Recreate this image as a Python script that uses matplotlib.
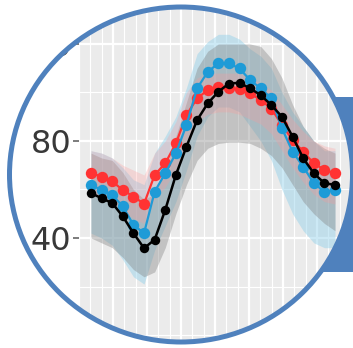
import numpy as np
import matplotlib
matplotlib.use("Agg")
import matplotlib.pyplot as plt
from matplotlib.patches import Ellipse, Polygon, PathPatch
from matplotlib.path import Path

# ---------------- data ----------------
hours = list(range(24))

red_mean = [66.8, 65.3, 63.3, 59.8, 57.1, 54.1, 66.0, 70.8, 79.0, 90.7, 97.6, 101.0,
            102.1, 101.7, 101.3, 99.6, 96.9, 93.4, 86.6, 80.4, 75.6, 70.8, 68.1, 66.7]
red_low = [58, 57, 55, 51, 48, 46, 56, 61, 68, 80, 88, 91,
           92, 92, 91, 89, 87, 83, 76, 69, 63, 58, 55, 54]
red_high = [76, 75, 73, 70, 68, 66, 75, 80, 88, 100, 106, 108,
            108, 108, 108, 106, 104, 101, 95, 89, 84, 80, 78, 77]

blue_mean = [61.9, 59.8, 57.8, 53.0, 45.4, 42.0, 59.1, 66.7, 74.9, 86.6, 101.7, 108.5,
             112.0, 112.0, 109.9, 105.1, 101.7, 97.6, 85.2, 75.6, 69.4, 62.6, 59.1, 59.8]
blue_low = [42, 40, 37, 31, 24, 21, 35, 45, 55, 68, 82, 90,
            94, 94, 92, 86, 80, 72, 60, 50, 43, 38, 36, 36]
blue_high = [76, 75, 73, 69, 64, 62, 75, 82, 90, 102, 116, 121,
             124, 124, 122, 118, 115, 110, 100, 92, 86, 80, 76, 76]

black_mean = [58.5, 56.4, 54.4, 48.9, 42.0, 35.8, 39.3, 51.6, 66.0, 77.7, 88.6, 95.5,
              100.3, 103.7, 104.0, 101.7, 98.9, 94.8, 90.0, 81.8, 72.9, 66.7, 62.6, 61.9]
black_low = [40, 38, 36, 32, 27, 24, 26, 36, 50, 62, 72, 77,
             79, 79.5, 79.5, 79, 77, 74, 69, 62, 55, 50, 46, 43]
black_high = [75, 73, 72, 67, 60, 56, 58, 68, 82, 96, 110, 117,
              120, 120, 120, 120, 119, 114, 106, 95, 86, 80, 77, 75]

y_ticks = [40, 80, 120]
y_labels = ["40", "80", "120"]
y_minor = [0, 20, 60, 100]

# ---------------- layout ----------------
W, H = 353, 348
fig = plt.figure(figsize=(W / 100, H / 100), dpi=100)
fig.patch.set_facecolor("white")

k = 23 / 244.0              # hours per pixel
ppu = 2.425                 # pixels per y unit
panel_left, panel_right = 79, 358
ax = fig.add_axes([panel_left / W, 0, (panel_right - panel_left) / W, 1])
ax.set_facecolor("#EBEBEB")
for s in ax.spines.values():
    s.set_visible(False)

ax.set_yticks(y_ticks)
ax.set_yticklabels(y_labels)
ax.set_yticks(y_minor, minor=True)
major_px = np.arange(79, 356, 34)
minor_px = np.arange(79 + 34 / 3, 356, 34 / 3)
ax.set_xticks((major_px - 91) * k)
ax.set_xticks((minor_px - 91) * k, minor=True)
ax.grid(which="major", color="white", lw=1.6)
ax.grid(which="minor", color="white", lw=0.8)
ax.set_axisbelow(True)
ax.tick_params(axis="y", which="major", length=4, width=1.2, color="#666666",
               pad=1.5, labelsize=23, labelcolor="#383838")
ax.tick_params(axis="y", which="minor", length=0)
ax.tick_params(axis="x", which="both", length=0, labelbottom=False)
for t in ax.get_yticklabels():
    t.set_fontfamily("DejaVu Sans")

# ribbons
ax.fill_between(hours, blue_low, blue_high, color="#8FD0EA", alpha=0.45, lw=0, zorder=2)
ax.fill_between(hours, black_low, black_high, color="#808080", alpha=0.38, lw=0, zorder=2)
ax.fill_between(hours, red_low, red_high, color="#FF9999", alpha=0.28, lw=0, zorder=2)

# lines + points
ax.plot(hours, red_mean, color="#FF3333", lw=1.6, marker="o", ms=8.2, mew=0, zorder=4)
ax.plot(hours, blue_mean, color="#1E9BD7", lw=1.6, marker="o", ms=8.2, mew=0, zorder=5)
ax.plot(hours, black_mean, color="black", lw=1.8, marker="o", ms=6.8, mew=0, zorder=6)

ax.set_xlim(-(91 - panel_left) * k, 23 + (panel_right - 335) * k)
ax.set_ylim(80 - (H - 141) / ppu, 80 + 141 / ppu)

# ---------------- overlay: circle frame and box ----------------
ov = fig.add_axes([0, 0, 1, 1], zorder=5)
ov.set_xlim(0, W)
ov.set_ylim(H, 0)
ov.axis("off")
ov.patch.set_alpha(0)

cx, cy, a, b = 181.0, 174.5, 171.5, 167.5
t = np.linspace(0, 2 * np.pi, 500)
ell = np.column_stack([cx + a * np.cos(t), cy + b * np.sin(t)])[::-1]
outer = np.array([[-20, -20], [W + 20, -20], [W + 20, H + 20], [-20, H + 20]])

verts = np.vstack([outer, outer[:1], ell, ell[:1]])
codes = ([Path.MOVETO] + [Path.LINETO] * (len(outer) - 1) + [Path.CLOSEPOLY] +
         [Path.MOVETO] + [Path.LINETO] * (len(ell) - 1) + [Path.CLOSEPOLY])
ov.add_patch(PathPatch(Path(verts, codes), facecolor="white", edgecolor="none", zorder=1))

# box to the right (visible only outside the circle)
ys = np.linspace(97, 272, 120)
xe = cx + a * np.sqrt(np.clip(1 - ((ys - cy) / b) ** 2, 0, 1))
box = np.vstack([np.column_stack([xe, ys]), [[W + 20, 272], [W + 20, 97]]])
ov.add_patch(Polygon(box, closed=True, facecolor="#4F81BD", edgecolor="none", zorder=2))

ov.add_patch(Ellipse((cx, cy), 2 * a, 2 * b, fill=False, edgecolor="#4F81BD",
                     lw=3.6, zorder=3))

fig.savefig("out.png", dpi=100, facecolor="white")
